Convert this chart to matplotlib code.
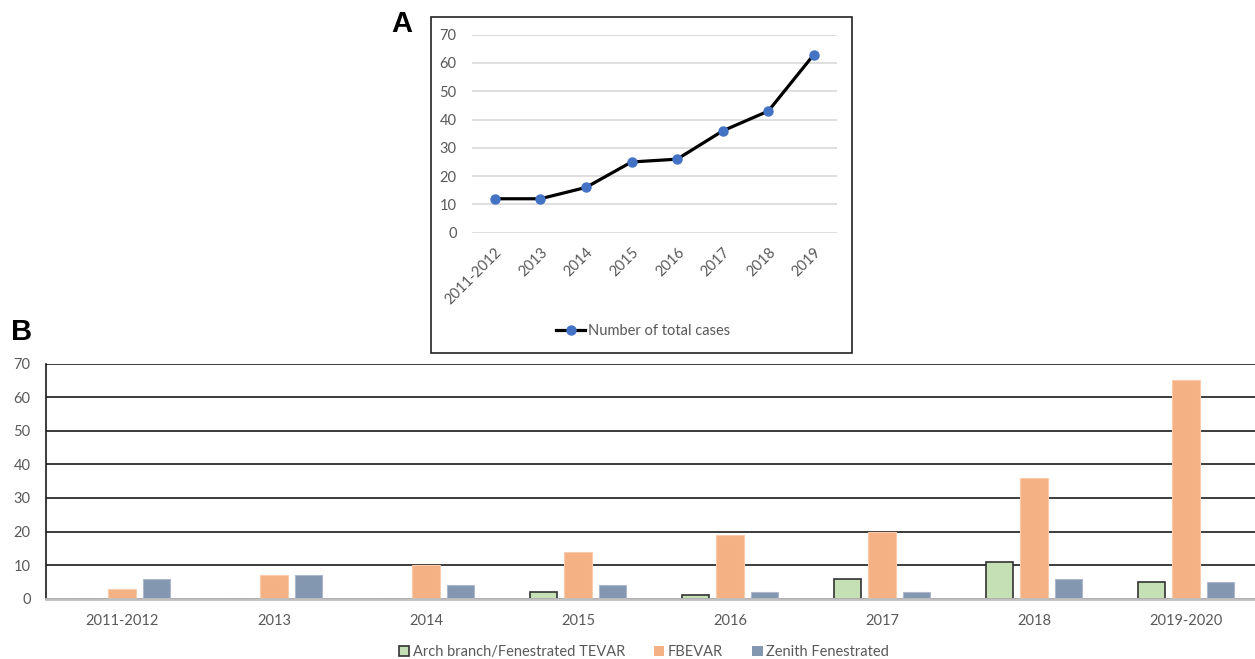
import matplotlib.pyplot as plt
import numpy as np
from matplotlib.patches import Rectangle, Patch

plt.rcParams['font.family'] = ['Lato', 'DejaVu Sans']

# panel A: total cases per year
years_a = ['2011-2012', '2013', '2014', '2015', '2016', '2017', '2018', '2019']
total_cases = [12, 12, 16, 25, 26, 36, 43, 63]

# panel B: cases per device
years_b = ['2011-2012', '2013', '2014', '2015', '2016', '2017', '2018', '2019-2020']
arch_tevar = [0, 0, 0, 2, 1, 6, 11, 5]
fbevar = [3, 7, 10, 14, 19, 20, 36, 65]
zenith = [6, 7, 4, 4, 2, 2, 6, 5]

W, H = 1255, 659
fig = plt.figure(figsize=(W / 100, H / 100), dpi=100)
tick_col = '#595959'


def px(x0, y0, x1, y1):
    # pixel box (top-left origin) -> figure fraction rect
    return [x0 / W, 1 - y1 / H, (x1 - x0) / W, (y1 - y0) / H]


# ---- A ----
fig.patches.append(Rectangle((431 / W, 1 - 353 / H), (852 - 431) / W, (353 - 17) / H,
                             transform=fig.transFigure, fill=False, ec='#222222', lw=1.2))
axa = fig.add_axes(px(472, 34.7, 836.7, 232.7))
xa = np.arange(len(years_a))
axa.plot(xa, total_cases, color='black', lw=2.3, marker='o', ms=6.5,
         mfc='#4472C4', mec='#4472C4', label='Number of total cases', zorder=3)
axa.set_xlim(-0.5, 7.5)
axa.set_ylim(0, 70)
axa.set_yticks(np.arange(0, 71, 10))
axa.yaxis.grid(True, color='#D9D9D9', lw=1.2)
axa.set_axisbelow(True)
for s in axa.spines.values():
    s.set_visible(False)
axa.tick_params(length=0, labelsize=10.5, labelcolor=tick_col)
axa.tick_params(axis='y', pad=11)
axa.set_xticks(xa)
axa.set_xticklabels(years_a, rotation=45, ha='right', va='top', rotation_mode='anchor')
axa.tick_params(axis='x', pad=9)
axa.legend(loc='center', bbox_to_anchor=(643 / W, 1 - 331 / H), bbox_transform=fig.transFigure,
           frameon=False, fontsize=10.5, handlelength=2.0, handletextpad=0.15,
           labelcolor=tick_col)
fig.text(402 / W, 1 - 24 / H, 'A', family='Liberation Sans', weight='bold', fontsize=21,
         ha='center', va='center')

# ---- B ----
axb = fig.add_axes(px(46, 363.7, 1262, 598.7))
xb = np.arange(len(years_b))
bw = 0.178
off = 0.224
axb.bar(xb - off, arch_tevar, bw, color='#C5E0B4', edgecolor='#333333', lw=1.2,
        label='Arch branch/Fenestrated TEVAR', zorder=3)
axb.bar(xb, fbevar, bw, color='#F4B183', edgecolor='#F8CBAD', lw=0.8, label='FBEVAR', zorder=3)
axb.bar(xb + off, zenith, bw, color='#8497B0', edgecolor='#ADB9CA', lw=0.8,
        label='Zenith Fenestrated', zorder=3)
axb.set_xlim(-0.5, 7.5)
axb.set_ylim(0, 70)
axb.set_yticks(np.arange(0, 71, 10))
axb.yaxis.grid(True, color='#1a1a1a', lw=1.2)
axb.set_axisbelow(True)
for k in ['top', 'right']:
    axb.spines[k].set_visible(False)
axb.spines['left'].set_color('#1a1a1a')
axb.spines['left'].set_linewidth(1.2)
axb.spines['bottom'].set_color('#BFBFBF')
axb.spines['bottom'].set_linewidth(2)
axb.spines['bottom'].set_zorder(4)
axb.tick_params(length=0, labelsize=10.5, labelcolor=tick_col)
axb.tick_params(axis='y', pad=11)
axb.tick_params(axis='x', pad=11)
axb.set_xticks(xb)
axb.set_xticklabels(years_b)
handles = [Patch(fc='#C5E0B4', ec='#333333', lw=1.2),
           Patch(fc='#F4B183', ec='none'),
           Patch(fc='#8497B0', ec='none')]
labels = ['Arch branch/Fenestrated TEVAR', 'FBEVAR', 'Zenith Fenestrated']
axb.legend(handles, labels, loc='center', bbox_to_anchor=(644 / W, 1 - 652 / H),
           bbox_transform=fig.transFigure, ncol=3, frameon=False, fontsize=10.5,
           handlelength=0.7, handleheight=0.7, handletextpad=0.25, columnspacing=2.0,
           labelcolor=tick_col)
fig.text(22 / W, 1 - 332 / H, 'B', family='Liberation Sans', weight='bold', fontsize=21,
         ha='center', va='center')

fig.savefig('out.png', dpi=100)
